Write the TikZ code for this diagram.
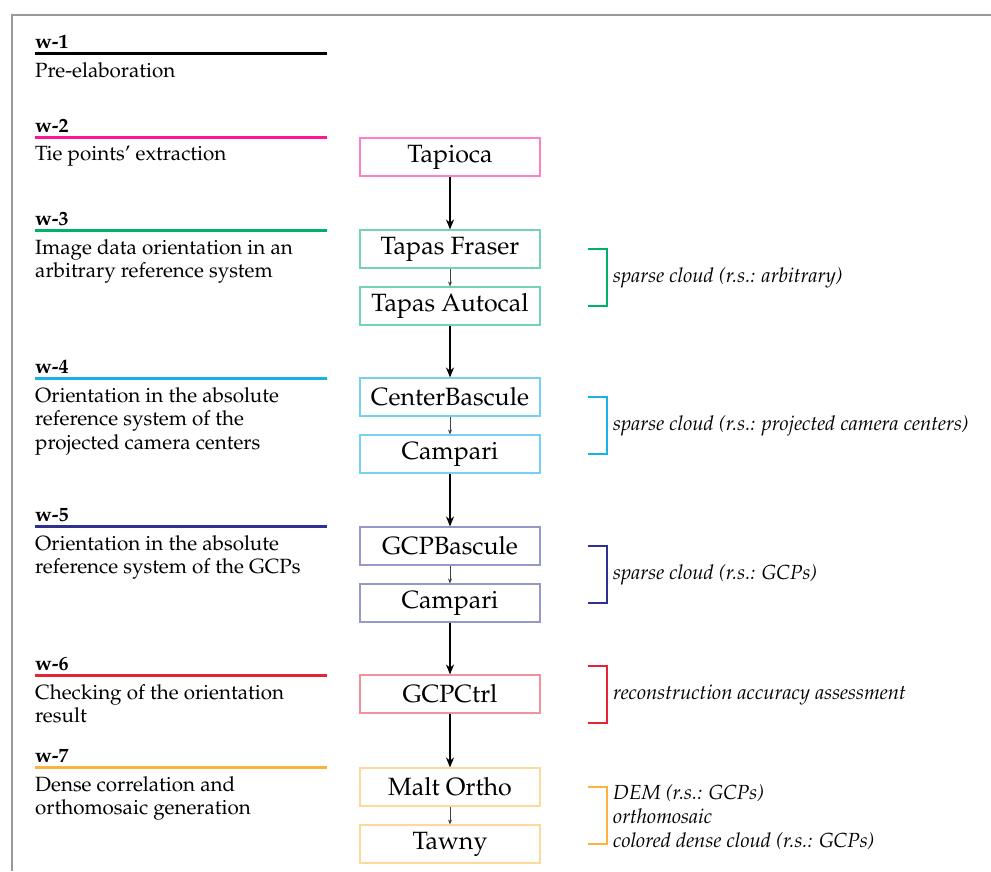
\documentclass[tikz,border=0pt]{standalone}
\usepackage[T1]{fontenc}
\usepackage{mathpazo}
\usetikzlibrary{arrows.meta}
\definecolor{cwa}{RGB}{0,0,0}
\definecolor{cwb}{RGB}{255,20,147}
\definecolor{cwc}{RGB}{0,177,106}
\definecolor{cwd}{RGB}{27,177,231}
\definecolor{cwe}{RGB}{46,49,146}
\definecolor{cwf}{RGB}{230,35,55}
\definecolor{cwg}{RGB}{253,178,62}
\tikzset{
  wlab/.style={anchor=base west, inner sep=0pt, font=\fontsize{20}{20}\selectfont\bfseries},
  wline/.style={line width=3pt},
  desc/.style={anchor=north west, inner sep=0pt, align=left, font=\fontsize{20.6}{23.5}\selectfont},
  stepbox/.style={draw, line width=1.1pt, minimum width=180pt, minimum height=38pt, inner sep=0pt, font=\fontsize{25}{25}\selectfont},
  bigarrow/.style={-{Stealth[length=10pt,width=8pt]}, line width=1.2pt, black},
  smallarrow/.style={-{Stealth[length=5pt,width=4pt]}, line width=0.6pt, black!75},
  brk/.style={line width=1.5pt},
  res/.style={anchor=base west, inner sep=0pt, align=left, font=\fontsize{20.4}{24}\selectfont\itshape},
}
\begin{document}
\begin{tikzpicture}[x=1pt,y=-1pt]
\useasboundingbox (0,0) rectangle (991,871);
\draw[black!40, line width=1.2pt] (12,871) -- (12,15) -- (991,15);

% left column
\node[wlab] (l1) at (35,48) {w-1};
\draw[wline, cwa] (35,53) -- (327,53);
\node[desc] (d1) at (35,62) {Pre-elaboration};

\node[wlab] (l2) at (35,132) {w-2};
\draw[wline, cwb] (35,137) -- (327,137);
\node[desc] (d2) at (35,146) {Tie points' extraction};

\node[wlab] (l3) at (35,225) {w-3};
\draw[wline, cwc] (35,230) -- (327,230);
\node[desc] (d3) at (35,239) {Image data orientation in an\\arbitrary reference system};

\node[wlab] (l4) at (35,373) {w-4};
\draw[wline, cwd] (35,378) -- (327,378);
\node[desc] (d4) at (35,387) {Orientation in the absolute\\reference system of the\\projected camera centers};

\node[wlab] (l5) at (35,521) {w-5};
\draw[wline, cwe] (35,526) -- (327,526);
\node[desc] (d5) at (35,535) {Orientation in the absolute\\reference system of the GCPs};

\node[wlab] (l6) at (35,670) {w-6};
\draw[wline, cwf] (35,675) -- (327,675);
\node[desc] (d6) at (35,684) {Checking of the orientation\\result};

\node[wlab] (l7) at (35,762) {w-7};
\draw[wline, cwg] (35,767) -- (327,767);
\node[desc] (d7) at (35,776) {Dense correlation and\\orthomosaic generation};

% boxes
\node[stepbox, draw=cwb!55] (tapioca) at (450,157) {Tapioca};
\node[stepbox, draw=cwc!55] (fraser) at (450,249) {Tapas Fraser};
\node[stepbox, draw=cwc!55] (autocal) at (450,306) {Tapas Autocal};
\node[stepbox, draw=cwd!60] (center) at (450,397) {CenterBascule};
\node[stepbox, draw=cwd!60] (campa) at (450,454) {Campari};
\node[stepbox, draw=cwe!50] (gcpb) at (450,546) {GCPBascule};
\node[stepbox, draw=cwe!50] (campb) at (450,603) {Campari};
\node[stepbox, draw=cwf!50] (gcpctrl) at (450,694) {GCPCtrl};
\node[stepbox, draw=cwg!50] (malt) at (450,787) {Malt Ortho};
\node[stepbox, draw=cwg!50] (tawny) at (450,844) {Tawny};

\draw[bigarrow] (tapioca) -- (fraser);
\draw[smallarrow] (fraser) -- (autocal);
\draw[bigarrow] (autocal) -- (center);
\draw[smallarrow] (center) -- (campa);
\draw[bigarrow] (campa) -- (gcpb);
\draw[smallarrow] (gcpb) -- (campb);
\draw[bigarrow] (campb) -- (gcpctrl);
\draw[bigarrow] (gcpctrl) -- (malt);
\draw[smallarrow] (malt) -- (tawny);

% brackets and results
\draw[brk, cwc] (588,249) -- (607,249) -- (607,306) -- (588,306);
\node[res] (r3) at (613,282) {sparse cloud (r.s.: arbitrary)};
\draw[brk, cwd] (588,397) -- (607,397) -- (607,454) -- (588,454);
\node[res] (r4) at (613,430) {sparse cloud (r.s.: projected camera centers)};
\draw[brk, cwe] (588,546) -- (607,546) -- (607,603) -- (588,603);
\node[res] (r5) at (613,579) {sparse cloud (r.s.: GCPs)};
\draw[brk, cwf] (588,666) -- (607,666) -- (607,723) -- (588,723);
\node[res] (r6) at (613,699) {reconstruction accuracy assessment};
\draw[brk, cwg] (588,787) -- (607,787) -- (607,844) -- (588,844);
\node[res] (r7a) at (613,799) {DEM (r.s.: GCPs)};
\node[res] (r7b) at (613,823) {orthomosaic};
\node[res] (r7c) at (613,847) {colored dense cloud (r.s.: GCPs)};
\end{tikzpicture}
\end{document}
